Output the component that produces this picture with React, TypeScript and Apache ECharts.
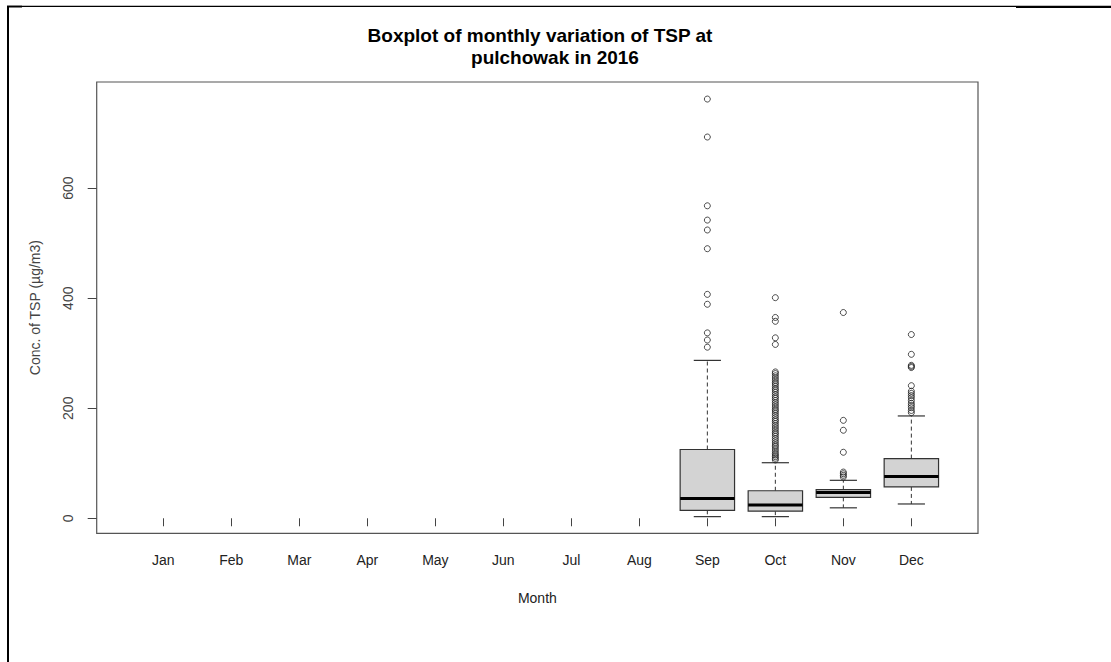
import React, { useEffect, useRef } from "react";
import * as echarts from "echarts";

const months = ["Jan", "Feb", "Mar", "Apr", "May", "Jun", "Jul", "Aug", "Sep", "Oct", "Nov", "Dec"];
const monthPositions = [1, 2, 3, 4, 5, 6, 7, 8, 9, 10, 11, 12];
const yTicks = [0, 200, 400, 600];

// [month position, lower whisker, Q1, median, Q3, upper whisker]
const boxStats = [
  [9, 3, 14.5, 36, 125, 287],
  [10, 3, 13, 24, 50, 101],
  [11, 19, 38, 47, 52, 69],
  [12, 26, 57, 76, 108.5, 186],
];

const sepOutliers = [762, 693, 568, 542, 524, 490, 407, 389, 337, 324, 311];
const octOutliers = [
  401, 365, 358, 328, 316, 266, 263, 259, 255, 251, 247, 244, 240, 236, 233, 229, 225, 221, 218,
  214, 210, 206, 202, 198, 195, 191, 187, 183, 179, 176, 172, 168, 164, 160, 156, 153, 149, 145,
  141, 137, 133, 130, 126, 122, 118, 115, 112, 109, 106,
];
const novOutliers = [374, 178, 160, 120, 84, 81, 78, 75];
const decOutliers = [334, 298, 278, 276, 274, 241, 231, 227, 223, 219, 214, 209, 205, 201, 196, 192];

const outlierData = [
  ...sepOutliers.map((v) => [9, v]),
  ...octOutliers.map((v) => [10, v]),
  ...novOutliers.map((v) => [11, v]),
  ...decOutliers.map((v) => [12, v]),
];

export default function App() {
  const ref = useRef<HTMLDivElement>(null);

  useEffect(() => {
    if (!ref.current) return;
    const chart = echarts.init(ref.current, null, { renderer: "svg" });
    const stroke = "#333";
    const option: any = {
      animation: false,
      backgroundColor: "#ffffff",
      textStyle: { fontFamily: "Liberation Sans, Arial, sans-serif" },
      grid: {
        left: 96.7,
        right: 133,
        top: 82,
        bottom: 128.7,
        show: true,
        borderColor: "#555",
        borderWidth: 1.2,
        backgroundColor: "transparent",
      },
      xAxis: {
        type: "value",
        min: 0.02,
        max: 12.98,
        name: "Month",
        nameLocation: "middle",
        nameGap: 58,
        nameTextStyle: { fontSize: 14, color: "#222", fontFamily: "Liberation Sans, Arial, sans-serif" },
        axisLine: { show: false },
        splitLine: { show: false },
        axisTick: {
          show: true,
          inside: false,
          length: 8,
          customValues: monthPositions,
          lineStyle: { color: "#444", width: 1 },
        },
        axisLabel: {
          show: true,
          customValues: monthPositions,
          formatter: (v: number) => months[Math.round(v) - 1] ?? "",
          margin: 20,
          fontSize: 14,
          color: "#222",
          fontFamily: "Liberation Sans, Arial, sans-serif",
        },
      },
      yAxis: {
        type: "value",
        min: -27.3,
        max: 793,
        name: "Conc. of TSP (µg/m3)",
        nameLocation: "middle",
        nameRotate: 90,
        nameGap: 55,
        nameTextStyle: { fontSize: 14, color: "#444", fontFamily: "Liberation Sans, Arial, sans-serif" },
        axisLine: { show: false },
        splitLine: { show: false },
        axisTick: {
          show: true,
          inside: false,
          length: 9,
          customValues: yTicks,
          lineStyle: { color: "#444", width: 1 },
        },
        axisLabel: {
          show: true,
          customValues: yTicks,
          rotate: 90,
          margin: 22,
          fontSize: 14,
          color: "#444",
          fontFamily: "Liberation Sans, Arial, sans-serif",
        },
      },
      graphic: [
        { type: "rect", shape: { x: 7, y: 6, width: 2, height: 656 }, style: { fill: "#000" }, silent: true },
        { type: "rect", shape: { x: 7, y: 5.7, width: 1009, height: 1.3 }, style: { fill: "#000" }, silent: true },
        { type: "rect", shape: { x: 7, y: 5.7, width: 15, height: 1.8 }, style: { fill: "#000" }, silent: true },
        { type: "rect", shape: { x: 1016, y: 5.7, width: 95, height: 2.3 }, style: { fill: "#000" }, silent: true },
        {
          type: "text",
          x: 540,
          y: 35,
          style: {
            text: "Boxplot of monthly variation of TSP at",
            fontSize: 19,
            fontWeight: "bold",
            fill: "#000",
            textAlign: "center",
            textVerticalAlign: "middle",
            fontFamily: "Liberation Sans, Arial, sans-serif",
          },
        },
        {
          type: "text",
          x: 555,
          y: 57,
          style: {
            text: "pulchowak in 2016",
            fontSize: 19,
            fontWeight: "bold",
            fill: "#000",
            textAlign: "center",
            textVerticalAlign: "middle",
            fontFamily: "Liberation Sans, Arial, sans-serif",
          },
        },
      ],
      series: [
        {
          type: "custom",
          data: boxStats,
          encode: { x: 0, y: [1, 2, 3, 4, 5] },
          renderItem: (params: any, api: any) => {
            const x = api.value(0);
            const pMin = api.coord([x, api.value(1)]);
            const pQ1 = api.coord([x, api.value(2)]);
            const pMed = api.coord([x, api.value(3)]);
            const pQ3 = api.coord([x, api.value(4)]);
            const pMax = api.coord([x, api.value(5)]);
            const boxW = api.size([0.8, 0])[0];
            const capW = boxW / 2;
            const cx = pMed[0];
            return {
              type: "group",
              children: [
                {
                  type: "line",
                  shape: { x1: cx, y1: pQ3[1], x2: cx, y2: pMax[1] },
                  style: { stroke, lineWidth: 1, lineDash: [4, 3] },
                },
                {
                  type: "line",
                  shape: { x1: cx, y1: pQ1[1], x2: cx, y2: pMin[1] },
                  style: { stroke, lineWidth: 1, lineDash: [4, 3] },
                },
                {
                  type: "line",
                  shape: { x1: cx - capW / 2, y1: pMax[1], x2: cx + capW / 2, y2: pMax[1] },
                  style: { stroke, lineWidth: 1.2 },
                },
                {
                  type: "line",
                  shape: { x1: cx - capW / 2, y1: pMin[1], x2: cx + capW / 2, y2: pMin[1] },
                  style: { stroke, lineWidth: 1.2 },
                },
                {
                  type: "rect",
                  shape: { x: cx - boxW / 2, y: pQ3[1], width: boxW, height: pQ1[1] - pQ3[1] },
                  style: { fill: "#d3d3d3", stroke, lineWidth: 1.2 },
                },
                {
                  type: "line",
                  shape: { x1: cx - boxW / 2, y1: pMed[1], x2: cx + boxW / 2, y2: pMed[1] },
                  style: { stroke: "#000", lineWidth: 3 },
                },
              ],
            };
          },
          z: 2,
        },
        {
          type: "scatter",
          data: outlierData,
          symbol: "circle",
          symbolSize: 6,
          itemStyle: { color: "rgba(0,0,0,0)", borderColor: "#222", borderWidth: 1 },
          z: 3,
        },
      ],
    };
    chart.setOption(option);
    return () => chart.dispose();
  }, []);

  return (
    <div
      ref={ref}
      style={{ position: "fixed", left: 0, top: 0, width: 1111, height: 662, background: "#fff" }}
    />
  );
}
